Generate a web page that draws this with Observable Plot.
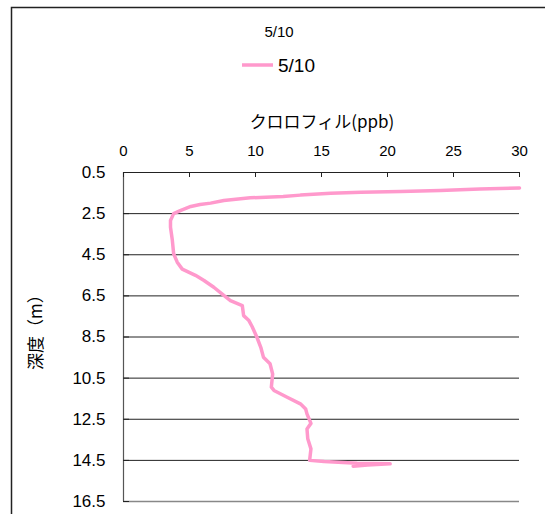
<!DOCTYPE html>
<html>
<head>
<meta charset="utf-8">
<script src="https://cdn.jsdelivr.net/npm/d3@7"></script>
<script src="https://cdn.jsdelivr.net/npm/@observablehq/plot@0.6"></script>
<style>
  html, body { margin: 0; padding: 0; background: #fff; overflow: hidden; }
</style>
</head>
<body>
<div id="chart"></div>
<script>
// ---- data ----
const seriesName = "5/10";
const chartTitle = "5/10";
const xLabel = "クロロフィル(ppb)";
const yLabel = "深度（m）";
const xTicks = [0, 5, 10, 15, 20, 25, 30];
const yTicks = [0.5, 2.5, 4.5, 6.5, 8.5, 10.5, 12.5, 14.5, 16.5];
const chlorophyll = [30.0, 27.0, 24.0, 21.0, 18.0, 15.7, 13.4, 12.1, 9.6, 7.6, 6.6, 5.8, 5.1, 4.3, 3.8, 3.56, 3.56, 3.7, 3.8, 4.07, 4.45, 5.45, 6.1, 6.84, 7.6, 8.1, 9.0, 9.1, 9.5, 9.75, 10.1, 10.4, 10.6, 11.1, 11.3, 11.2, 11.4, 12.4, 13.4, 13.8, 13.9, 14.2, 13.9, 13.96, 14.2, 14.1, 15.2, 17.7, 20.2, 18.5, 17.4];
const depth =       [1.25, 1.30, 1.38, 1.42, 1.46, 1.51, 1.60, 1.67, 1.73, 1.86, 1.99, 2.06, 2.15, 2.35, 2.50, 2.83, 3.16, 3.80, 4.45, 4.86, 5.20, 5.50, 5.75, 6.08, 6.48, 6.73, 6.97, 7.46, 7.70, 8.00, 8.50, 9.00, 9.48, 9.80, 10.30, 10.94, 11.10, 11.43, 11.75, 12.00, 12.24, 12.70, 12.97, 13.45, 13.94, 14.50, 14.56, 14.64, 14.67, 14.72, 14.78];

const data = depth.map((d, i) => ({depth: d, chl: chlorophyll[i]}));
const lineColor = "#ff99cc";
const gridYs = yTicks.slice(1, -1);

const chart = Plot.plot({
  width: 545,
  height: 514,
  marginLeft: 123,
  marginRight: 26,
  marginTop: 172,
  marginBottom: 13,
  style: {fontFamily: "'Liberation Sans', 'Noto Sans CJK JP', sans-serif", background: "#fff", color: "#000", overflow: "visible"},
  x: {domain: [0, 30]},
  y: {domain: [0.5, 16.5], reverse: true},
  marks: [
    Plot.ruleY(gridYs, {stroke: "#222", strokeWidth: 1}),
    Plot.ruleY([16.5], {stroke: "#888", strokeWidth: 1.5}),
    Plot.ruleY([0.5], {stroke: "#222", strokeWidth: 1.2}),
    Plot.ruleX([0], {stroke: "#555", strokeWidth: 1.2}),
    Plot.tickX(xTicks, {x: d => d, stroke: "#222", insetBottom: 324}),
    Plot.tickY(yTicks, {y: d => d, stroke: "#222", insetRight: 390}),
    Plot.axisX({anchor: "top", ticks: xTicks, tickSize: 0, tickPadding: 17, fontSize: 15, label: null}),
    Plot.axisY({anchor: "left", ticks: yTicks, tickSize: 0, tickPadding: 18, fontSize: 17, tickFormat: d => d.toFixed(1), label: null}),
    Plot.line(data, {x: "chl", y: "depth", stroke: lineColor, strokeWidth: 3.5, strokeLinejoin: "round", strokeLinecap: "round"})
  ]
});

document.getElementById("chart").appendChild(chart);

// ---- decorations: frame, title, legend, axis titles ----
const svg = d3.select(chart);
svg.insert("rect", ":first-child")
  .attr("x", 11.5).attr("y", 7.5).attr("width", 560).attr("height", 560)
  .attr("fill", "none").attr("stroke", "#222").attr("stroke-width", 1.5);

const jp = "'Liberation Sans', 'Noto Sans CJK JP', sans-serif";
svg.append("text").text(chartTitle)
  .attr("x", 279).attr("y", 37).attr("text-anchor", "middle")
  .attr("font-size", 15).attr("font-family", jp).attr("fill", "#000");

svg.append("line")
  .attr("x1", 242).attr("x2", 273).attr("y1", 65).attr("y2", 65)
  .attr("stroke", lineColor).attr("stroke-width", 3.5);
svg.append("text").text(seriesName)
  .attr("x", 278).attr("y", 72).attr("font-size", 19).attr("text-anchor", "start")
  .attr("font-family", jp).attr("fill", "#000");

svg.append("text").text(xLabel)
  .attr("x", 322).attr("y", 128).attr("text-anchor", "middle")
  .attr("font-size", 17).attr("font-family", "'Noto Sans CJK JP', sans-serif").attr("fill", "#000");

svg.append("text").text(yLabel)
  .attr("transform", "translate(42,328) rotate(-90)")
  .attr("text-anchor", "middle")
  .attr("font-size", 17).attr("font-family", "'Noto Sans CJK JP', sans-serif").attr("fill", "#000");
</script>
</body>
</html>
